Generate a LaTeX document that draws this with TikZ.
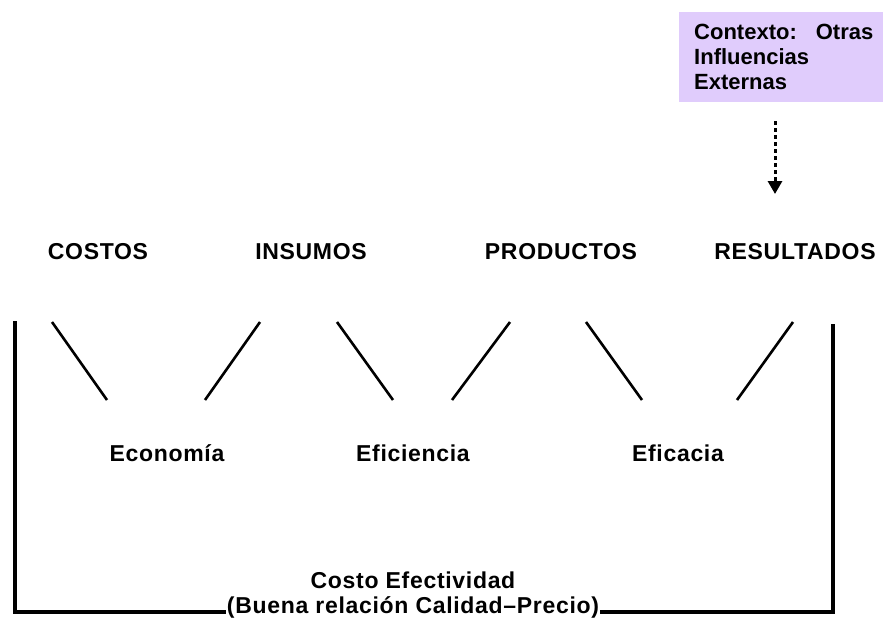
\documentclass[tikz,border=0pt]{standalone}
\usepackage{fontspec}
\setmainfont{Liberation Sans}
\newfontfamily\espaciada[LetterSpace=3]{Liberation Sans}
\usetikzlibrary{arrows.meta}

\definecolor{lila}{RGB}{224,204,252}

\tikzset{
  etapa/.style={anchor=base, font=\espaciada\fontsize{23}{27}\selectfont\bfseries},
  criterio/.style={anchor=base, font=\espaciada\fontsize{23}{27}\selectfont\bfseries},
  marco/.style={line width=3.5pt},
  trazo/.style={line width=2.6pt}
}

\begin{document}
\begin{tikzpicture}[x=1pt,y=-1pt]

% Frame of the page
\useasboundingbox (0,0) rectangle (883,619);

% Context box
\fill[lila] (679,12) rectangle (883,102);
\node[anchor=base west, align=left, inner sep=0pt,
      font=\fontsize{22}{24.7}\selectfont\bfseries] (ctx) at (694,89)
  {Contexto:\hspace{19pt}Otras\\Influencias\\Externas};

% Dotted arrow towards RESULTADOS
\coordinate (from) at (775,121);
\coordinate (tip) at (775,194);
\draw[line width=3pt, dash pattern=on 3.5pt off 3.5pt,
      -{Triangle[length=13pt,width=14pt]}] (from) -- (tip);

% Stages
\node[etapa] (costos) at (98,259) {COSTOS};
\node[etapa] (insumos) at (311,259) {INSUMOS};
\node[etapa] (productos) at (561,259) {PRODUCTOS};
\node[etapa] (resultados) at (795,259) {RESULTADOS};

% Slanted strokes
\foreach \a/\b in {52/107, 337/393, 586/642}
  \draw[trazo] (\a,322) -- (\b,400);
\foreach \a/\b in {260/205, 510/452, 793/737}
  \draw[trazo] (\a,322) -- (\b,400);

% Criteria
\node[criterio] (econ) at (167,461) {Economía};
\node[criterio] (efic) at (413,461) {Eficiencia};
\node[criterio] (efca) at (678,461) {Eficacia};

% Cost effectiveness
\node[criterio] (costo) at (413,588) {Costo Efectividad};
\node[criterio, inner sep=1pt] (buena) at (413,613)
  {(Buena relación Calidad–Precio)};

% Bracket
\coordinate (izq) at (15,321);
\coordinate (der) at (833,324);
\draw[marco] (izq) -- (15,612) -- (buena.west |- 0,612);
\draw[marco] (der) -- (833,612) -- (buena.east |- 0,612);

\end{tikzpicture}
\end{document}
